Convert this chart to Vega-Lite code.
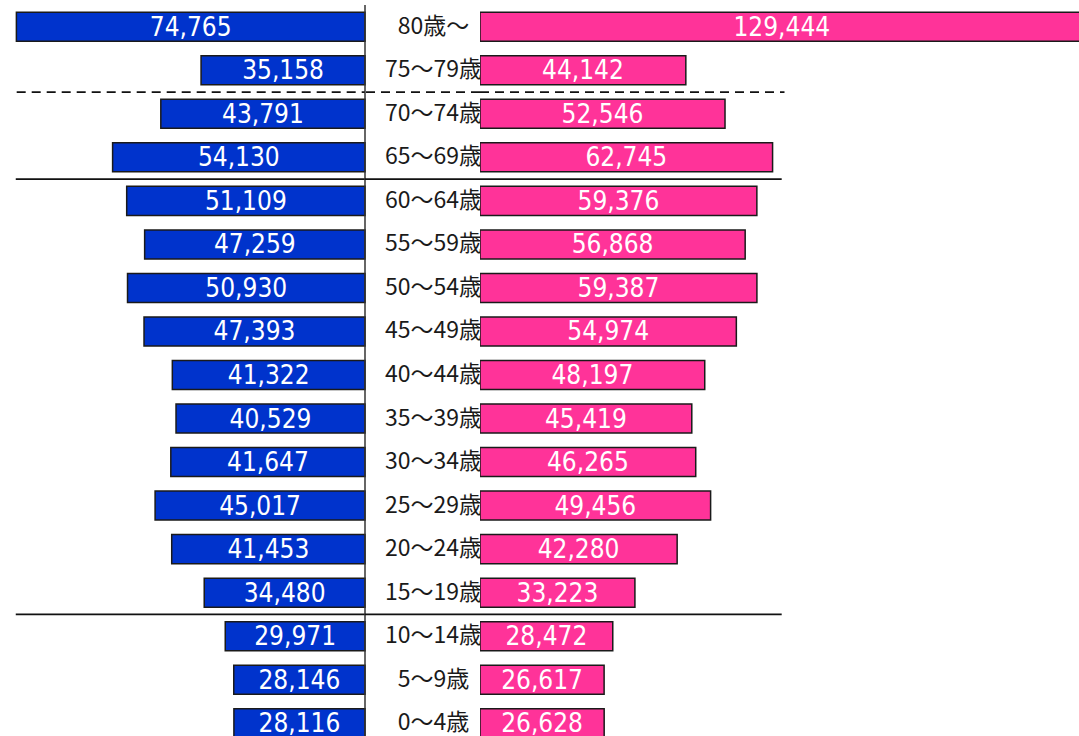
{
  "$schema": "https://vega.github.io/schema/vega-lite/v6.json",
  "background": "white",
  "padding": {"top": 4, "left": 0, "right": 0, "bottom": 0},
  "spacing": 0,
  "bounds": "flush",
  "config": {"view": {"stroke": null}, "concat": {"spacing": 0}},
  "datasets": {
    "pop": [
      {"age": "80歳〜", "male": 74765, "female": 129444},
      {"age": "75〜79歳", "male": 35158, "female": 44142},
      {"age": "70〜74歳", "male": 43791, "female": 52546},
      {"age": "65〜69歳", "male": 54130, "female": 62745},
      {"age": "60〜64歳", "male": 51109, "female": 59376},
      {"age": "55〜59歳", "male": 47259, "female": 56868},
      {"age": "50〜54歳", "male": 50930, "female": 59387},
      {"age": "45〜49歳", "male": 47393, "female": 54974},
      {"age": "40〜44歳", "male": 41322, "female": 48197},
      {"age": "35〜39歳", "male": 40529, "female": 45419},
      {"age": "30〜34歳", "male": 41647, "female": 46265},
      {"age": "25〜29歳", "male": 45017, "female": 49456},
      {"age": "20〜24歳", "male": 41453, "female": 42280},
      {"age": "15〜19歳", "male": 34480, "female": 33223},
      {"age": "10〜14歳", "male": 29971, "female": 28472},
      {"age": "5〜9歳", "male": 28146, "female": 26617},
      {"age": "0〜4歳", "male": 28116, "female": 26628}
    ],
    "sep": [
      {"age": "70〜74歳", "kind": "dashed"},
      {"age": "60〜64歳", "kind": "solid"},
      {"age": "10〜14歳", "kind": "solid"}
    ]
  },
  "hconcat": [
    {
      "width": 365,
      "height": 740,
      "resolve": {"scale": {"x": "independent"}},
      "layer": [
        {
          "data": {"name": "pop"},
          "mark": {"type": "bar", "color": "#0033CC", "stroke": "#1a1a1a", "strokeWidth": 1.5, "height": {"band": 0.667}},
          "encoding": {
            "y": {"field": "age", "type": "nominal", "axis": null, "scale": {"domain": ["80歳〜","75〜79歳","70〜74歳","65〜69歳","60〜64歳","55〜59歳","50〜54歳","45〜49歳","40〜44歳","35〜39歳","30〜34歳","25〜29歳","20〜24歳","15〜19歳","10〜14歳","5〜9歳","0〜4歳"], "paddingInner": 0, "paddingOuter": 0}},
            "x": {"field": "male", "type": "quantitative", "axis": null, "scale": {"domain": [0, 78280], "reverse": true, "nice": false}},
            "x2": {"datum": 0}
          }
        },
        {
          "data": {"name": "pop"},
          "mark": {"type": "text", "color": "white", "font": "DejaVu Sans Condensed", "fontSize": 26, "align": "center", "baseline": "middle", "dy": 1},
          "encoding": {
            "y": {"field": "age", "type": "nominal"},
            "x": {"field": "male", "type": "quantitative", "axis": null, "scale": {"domain": [0, 156560], "reverse": true, "nice": false}},
            "text": {"field": "male", "type": "quantitative", "format": ","}
          }
        },
        {
          "data": {"name": "sep"},
          "transform": [{"filter": "datum.kind === 'dashed'"}],
          "mark": {"type": "rule", "color": "#111111", "strokeWidth": 1.8, "strokeDash": [9, 6]},
          "encoding": {
            "y": {"field": "age", "type": "nominal", "bandPosition": 0},
            "x": {"datum": 74700, "type": "quantitative", "axis": null, "scale": {"domain": [0, 78280], "reverse": true, "nice": false}},
            "x2": {"datum": 0}
          }
        },
        {
          "data": {"name": "sep"},
          "transform": [{"filter": "datum.kind === 'solid'"}],
          "mark": {"type": "rule", "color": "#111111", "strokeWidth": 1.8},
          "encoding": {
            "y": {"field": "age", "type": "nominal", "bandPosition": 0},
            "x": {"datum": 74900, "type": "quantitative", "axis": null, "scale": {"domain": [0, 78280], "reverse": true, "nice": false}},
            "x2": {"datum": 0}
          }
        },
        {
          "data": {"values": [{"origin": 0}]},
          "mark": {"type": "rule", "color": "#333333", "strokeWidth": 1.5},
          "encoding": {
            "x": {"field": "origin", "type": "quantitative", "axis": null, "scale": {"domain": [0, 78280], "reverse": true, "nice": false}}
          }
        }
      ]
    },
    {
      "width": 115,
      "height": 740,
      "layer": [
        {
          "data": {"name": "pop"},
          "mark": {"type": "text", "color": "#1a1a1a", "font": "Noto Sans CJK JP", "fontSize": 23, "align": "center", "baseline": "middle", "dx": 11},
          "encoding": {
            "y": {"field": "age", "type": "nominal", "axis": null, "scale": {"domain": ["80歳〜","75〜79歳","70〜74歳","65〜69歳","60〜64歳","55〜59歳","50〜54歳","45〜49歳","40〜44歳","35〜39歳","30〜34歳","25〜29歳","20〜24歳","15〜19歳","10〜14歳","5〜9歳","0〜4歳"], "paddingInner": 0, "paddingOuter": 0}},
            "text": {"field": "age", "type": "nominal"}
          }
        },
        {
          "data": {"name": "sep"},
          "transform": [{"filter": "datum.kind === 'dashed'"}],
          "mark": {"type": "rule", "color": "#111111", "strokeWidth": 1.8, "strokeDash": [9, 6]},
          "encoding": {
            "y": {"field": "age", "type": "nominal", "bandPosition": 0}
          }
        },
        {
          "data": {"name": "sep"},
          "transform": [{"filter": "datum.kind === 'solid'"}],
          "mark": {"type": "rule", "color": "#111111", "strokeWidth": 1.8},
          "encoding": {
            "y": {"field": "age", "type": "nominal", "bandPosition": 0}
          }
        }
      ]
    },
    {
      "width": 599,
      "height": 740,
      "resolve": {"scale": {"x": "independent"}},
      "layer": [
        {
          "data": {"name": "pop"},
          "mark": {"type": "bar", "color": "#FF3399", "stroke": "#1a1a1a", "strokeWidth": 1.5, "height": {"band": 0.667}, "clip": true},
          "encoding": {
            "y": {"field": "age", "type": "nominal", "axis": null, "scale": {"domain": ["80歳〜","75〜79歳","70〜74歳","65〜69歳","60〜64歳","55〜59歳","50〜54歳","45〜49歳","40〜44歳","35〜39歳","30〜34歳","25〜29歳","20〜24歳","15〜19歳","10〜14歳","5〜9歳","0〜4歳"], "paddingInner": 0, "paddingOuter": 0}},
            "x": {"field": "female", "type": "quantitative", "axis": null, "scale": {"domain": [0, 128460], "nice": false}},
            "x2": {"datum": 0}
          }
        },
        {
          "data": {"name": "pop"},
          "mark": {"type": "text", "color": "white", "font": "DejaVu Sans Condensed", "fontSize": 26, "align": "center", "baseline": "middle", "dy": 1},
          "encoding": {
            "y": {"field": "age", "type": "nominal"},
            "x": {"field": "female", "type": "quantitative", "axis": null, "scale": {"domain": [0, 256920], "nice": false}},
            "text": {"field": "female", "type": "quantitative", "format": ","}
          }
        },
        {
          "data": {"name": "sep"},
          "transform": [{"filter": "datum.kind === 'dashed'"}],
          "mark": {"type": "rule", "color": "#111111", "strokeWidth": 1.8, "strokeDash": [9, 6]},
          "encoding": {
            "y": {"field": "age", "type": "nominal", "bandPosition": 0},
            "x": {"datum": 0, "type": "quantitative", "axis": null, "scale": {"domain": [0, 128460], "nice": false}},
            "x2": {"datum": 65300}
          }
        },
        {
          "data": {"name": "sep"},
          "transform": [{"filter": "datum.kind === 'solid'"}],
          "mark": {"type": "rule", "color": "#111111", "strokeWidth": 1.8},
          "encoding": {
            "y": {"field": "age", "type": "nominal", "bandPosition": 0},
            "x": {"datum": 0, "type": "quantitative", "axis": null, "scale": {"domain": [0, 128460], "nice": false}},
            "x2": {"datum": 64700}
          }
        }
      ]
    }
  ]
}
